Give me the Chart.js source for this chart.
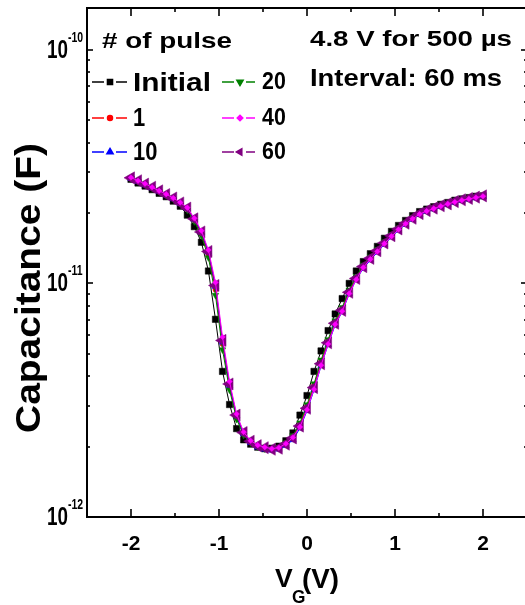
<!DOCTYPE html>
<html>
<head>
<meta charset="utf-8">
<script src="https://cdn.jsdelivr.net/npm/chart.js@4/dist/chart.umd.min.js"></script>
<style>
  html, body { margin: 0; padding: 0; background: #fff; overflow: hidden; }
  #wrap { width: 528px; height: 605px; position: relative; }
</style>
</head>
<body>
<div id="wrap"><canvas id="cv-chart"></canvas></div>
<script>
// gate voltage (V)
const vg = [-2, -1.92, -1.84, -1.76, -1.68, -1.6, -1.52, -1.44, -1.36, -1.28,
    -1.2, -1.12, -1.04, -0.96, -0.88, -0.8, -0.72, -0.64, -0.56, -0.48,
    -0.4, -0.32, -0.24, -0.16, -0.08, 0, 0.08, 0.16, 0.24, 0.32,
    0.4, 0.48, 0.56, 0.64, 0.72, 0.8, 0.88, 0.96, 1.04, 1.12,
    1.2, 1.28, 1.36, 1.44, 1.52, 1.6, 1.68, 1.76, 1.84, 1.92, 2];

// capacitance in pF, one array per pulse count
const capInitial = [27.9, 26.9, 26.1, 25.2, 24.3, 23.5, 22.5, 21.4, 19.6, 17.5,
    15.0, 11.3, 7.02, 4.20, 3.03, 2.39, 2.14, 2.05, 1.99, 1.96,
    1.97, 2.01, 2.12, 2.29, 2.73, 3.31, 4.20, 5.14, 6.28, 7.40,
    8.61, 10.0, 11.3, 12.4, 13.4, 14.4, 15.6, 16.7, 17.7, 18.6,
    19.5, 20.3, 20.8, 21.3, 21.8, 22.2, 22.7, 23.0, 23.3, 23.6, 23.7];
const cap1 = [28.3, 27.4, 26.6, 25.7, 24.8, 24.0, 23.1, 22.0, 20.8, 18.7,
    16.3, 13.3, 9.4, 5.5, 3.6, 2.68, 2.27, 2.09, 2.01, 1.97,
    1.95, 1.98, 2.07, 2.21, 2.50, 2.98, 3.66, 4.62, 5.67, 6.84,
    7.80, 9.28, 10.6, 11.9, 12.9, 13.9, 15.0, 16.1, 17.2, 18.2,
    19.1, 19.9, 20.5, 21.0, 21.5, 22.0, 22.4, 22.8, 23.1, 23.4, 23.7];
const cap10 = [28.1, 27.3, 26.4, 25.6, 24.8, 23.9, 23.0, 22.0, 20.9, 18.8,
    16.5, 13.6, 9.7, 5.6, 3.65, 2.70, 2.27, 2.08, 1.99, 1.95,
    1.93, 1.95, 2.02, 2.14, 2.40, 2.85, 3.50, 4.44, 5.47, 6.64,
    7.56, 9.02, 10.4, 11.6, 12.6, 13.6, 14.7, 15.8, 16.9, 17.9,
    18.8, 19.7, 20.3, 20.8, 21.3, 21.7, 22.2, 22.6, 22.9, 23.2, 23.5];
const cap20 = [28.2, 27.3, 26.5, 25.6, 24.7, 23.9, 23.0, 21.9, 20.6, 18.4,
    16.0, 12.9, 8.9, 5.2, 3.5, 2.62, 2.24, 2.08, 2.00, 1.96,
    1.95, 1.99, 2.08, 2.23, 2.53, 3.03, 3.72, 4.70, 5.75, 6.92,
    7.90, 9.38, 10.7, 12.0, 13.0, 14.0, 15.1, 16.2, 17.3, 18.3,
    19.2, 20.0, 20.6, 21.1, 21.6, 22.0, 22.5, 22.9, 23.2, 23.5, 23.7];
const cap40 = [28.4, 27.5, 26.7, 25.8, 24.9, 24.1, 23.2, 22.2, 21.1, 19.0,
    16.8, 13.9, 10.1, 5.9, 3.8, 2.76, 2.31, 2.12, 2.03, 1.99,
    1.96, 1.98, 2.06, 2.19, 2.43, 2.88, 3.52, 4.46, 5.50, 6.68,
    7.60, 9.05, 10.4, 11.7, 12.7, 13.7, 14.8, 15.9, 17.0, 18.0,
    18.9, 19.8, 20.4, 20.9, 21.4, 21.9, 22.3, 22.7, 23.0, 23.3, 23.6];
const cap60 = [28.3, 27.5, 26.6, 25.8, 24.9, 24.0, 23.2, 22.1, 21.0, 18.9,
    16.6, 13.7, 9.8, 5.70, 3.71, 2.73, 2.30, 2.11, 2.02, 1.98,
    1.95, 1.97, 2.05, 2.18, 2.45, 2.92, 3.58, 4.53, 5.57, 6.75,
    7.67, 9.16, 10.5, 11.8, 12.8, 13.8, 14.9, 16.0, 17.1, 18.1,
    19.0, 19.9, 20.5, 21.0, 21.5, 21.9, 22.4, 22.8, 23.1, 23.4, 23.7];

// ticks
const xMajor = [-2, -1, 0, 1, 2];
const xMinor = [-1.5, -0.5, 0.5, 1.5];
const xLabels = ['-2', '-1', '0', '1', '2'];
const yMajor = [1, 10, 100];            // pF
const yMinor = [2, 3, 4, 5, 6, 7, 8, 9, 20, 30, 40, 50, 60, 70, 80, 90];
const yExp = ['-12', '-11', '-10'];

const FONT = '"Liberation Sans", Arial, sans-serif';

const series = [
    { label: 'Initial', data: capInitial, color: '#000000', style: 'rect', r: 4.5, rot: 0, order: 5 },
    { label: '1', data: cap1, color: '#ff0000', style: 'circle', r: 2.5, rot: 0, order: 4 },
    { label: '10', data: cap10, color: '#0000ff', style: 'triangle', r: 3.8, rot: 0, order: 3 },
    { label: '20', data: cap20, color: '#008000', style: 'triangle', r: 3.8, rot: 180, order: 2 },
    { label: '40', data: cap40, color: '#ff00ff', style: 'rectRot', r: 2.8, rot: 0, order: 0 },
    { label: '60', data: cap60, color: '#800080', style: 'triangle', r: 7, rot: 270, order: 1 }
];

// draws bold text with a cap height and horizontal squeeze
function drawScaled(ctx, txt, x, base, cap, sx, align) {
    ctx.font = 'bold ' + (cap / 0.716).toFixed(2) + 'px ' + FONT;
    const w = ctx.measureText(txt).width * sx;
    let left = x;
    if (align === 'right') left = x - w;
    if (align === 'center') left = x - w / 2;
    ctx.save();
    ctx.translate(left, base);
    ctx.scale(sx, 1);
    ctx.textBaseline = 'alphabetic';
    ctx.textAlign = 'left';
    ctx.fillText(txt, 0, 0);
    ctx.restore();
}

function fitText(ctx, txt, left, base, cap, width) {
    ctx.font = 'bold ' + (cap / 0.716).toFixed(2) + 'px ' + FONT;
    const sx = width / ctx.measureText(txt).width;
    drawScaled(ctx, txt, left, base, cap, sx, 'left');
}

const decorPlugin = {
    id: 'decor',
    afterDraw(chart) {
        const ctx = chart.ctx;
        const a = chart.chartArea;
        const xs = chart.scales.x, ys = chart.scales.y;
        ctx.save();
        ctx.strokeStyle = '#000';
        ctx.fillStyle = '#000';
        ctx.lineWidth = 2;
        ctx.strokeRect(a.left, a.top, a.right - a.left, a.bottom - a.top);

        ctx.lineWidth = 1.6;
        const tick = (x1, y1, x2, y2) => {
            ctx.beginPath(); ctx.moveTo(x1, y1); ctx.lineTo(x2, y2); ctx.stroke();
        };
        xMajor.forEach(v => {
            const px = Math.round(xs.getPixelForValue(v));
            tick(px, a.bottom, px, a.bottom - 8);
            tick(px, a.top, px, a.top + 8);
        });
        xMinor.forEach(v => {
            const px = Math.round(xs.getPixelForValue(v));
            tick(px, a.bottom, px, a.bottom - 4);
            tick(px, a.top, px, a.top + 4);
        });
        yMajor.forEach(v => {
            const py = Math.round(ys.getPixelForValue(v));
            tick(a.left, py, a.left + 6, py);
            tick(a.right, py, a.right - 6, py);
        });
        yMinor.forEach(v => {
            const py = Math.round(ys.getPixelForValue(v));
            tick(a.left, py, a.left + 3, py);
            tick(a.right, py, a.right - 3, py);
        });

        // x tick labels
        xMajor.forEach((v, i) => {
            drawScaled(ctx, xLabels[i], xs.getPixelForValue(v), 550, 15, 1, 'center');
        });
        // y tick labels 10^n
        yMajor.forEach((v, i) => {
            const py = ys.getPixelForValue(v);
            drawScaled(ctx, '10', 68, py + 8, 18, 0.75, 'right');
            drawScaled(ctx, yExp[i], 68, py - 8, 10, 0.75, 'left');
        });

        // axis titles
        drawScaled(ctx, 'V', 275, 587, 19, 1, 'left');
        drawScaled(ctx, 'G', 292, 603, 13, 0.95, 'left');
        fitText(ctx, '(V)', 302, 588, 20, 37);

        ctx.save();
        ctx.translate(40, 433);
        ctx.rotate(-Math.PI / 2);
        fitText(ctx, 'Capacitance (F)', 0, 0, 25, 290);
        ctx.restore();

        // legend
        fitText(ctx, '# of pulse', 102, 48, 16, 130);
        fitText(ctx, '4.8 V for 500 \u00b5s', 310, 46, 15.5, 202);
        fitText(ctx, 'Interval: 60 ms', 310, 86, 17.5, 192);

        const rows = [82, 118, 152];
        series.forEach((s, i) => {
            const col = i < 3 ? 0 : 1;
            const y = rows[i % 3];
            const x0 = col === 0 ? 92 : 222;
            const xm = col === 0 ? 110 : 240;
            const x1 = col === 0 ? 127 : 255;
            ctx.strokeStyle = s.color;
            ctx.fillStyle = s.color;
            ctx.lineWidth = 1.5;
            tick(x0, y, xm - 6, y);
            tick(xm + 6, y, x1, y);
            Chart.helpers.drawPoint(ctx, {
                pointStyle: s.style,
                radius: Math.min(s.r, 3.6),
                rotation: s.rot,
                borderWidth: 1
            }, xm, y);
            ctx.fill();
            ctx.fillStyle = '#000';
            if (col === 0) {
                if (s.label === 'Initial') fitText(ctx, 'Initial', 133, 91, 18.5, 78);
                else drawScaled(ctx, s.label, 133, y + 8, 18.5, 0.85, 'left');
            } else {
                drawScaled(ctx, s.label, 262, y + 7, 17, 0.9, 'left');
            }
        });
        ctx.restore();
    }
};

const datasets = series.map(s => ({
    label: s.label,
    data: vg.map((v, i) => ({ x: v, y: s.data[i] })),
    borderColor: s.color,
    backgroundColor: s.color,
    borderWidth: 1,
    pointStyle: s.style,
    pointRadius: s.r,
    pointRotation: s.rot,
    pointBorderWidth: 0.5,
    pointBorderColor: s.color,
    pointBackgroundColor: s.color,
    tension: 0,
    order: s.order
}));

new Chart(document.getElementById('cv-chart').getContext('2d'), {
    type: 'line',
    data: { datasets },
    options: {
        responsive: true,
        maintainAspectRatio: false,
        animation: false,
        events: [],
        layout: { autoPadding: false, padding: { left: 87, top: 8, right: 1, bottom: 88 } },
        plugins: { legend: { display: false }, tooltip: { enabled: false } },
        scales: {
            x: { type: 'linear', min: -2.5, max: 2.5, display: false },
            y: { type: 'logarithmic', min: 1, max: 151, display: false }
        }
    },
    plugins: [decorPlugin]
});
</script>
</body>
</html>
